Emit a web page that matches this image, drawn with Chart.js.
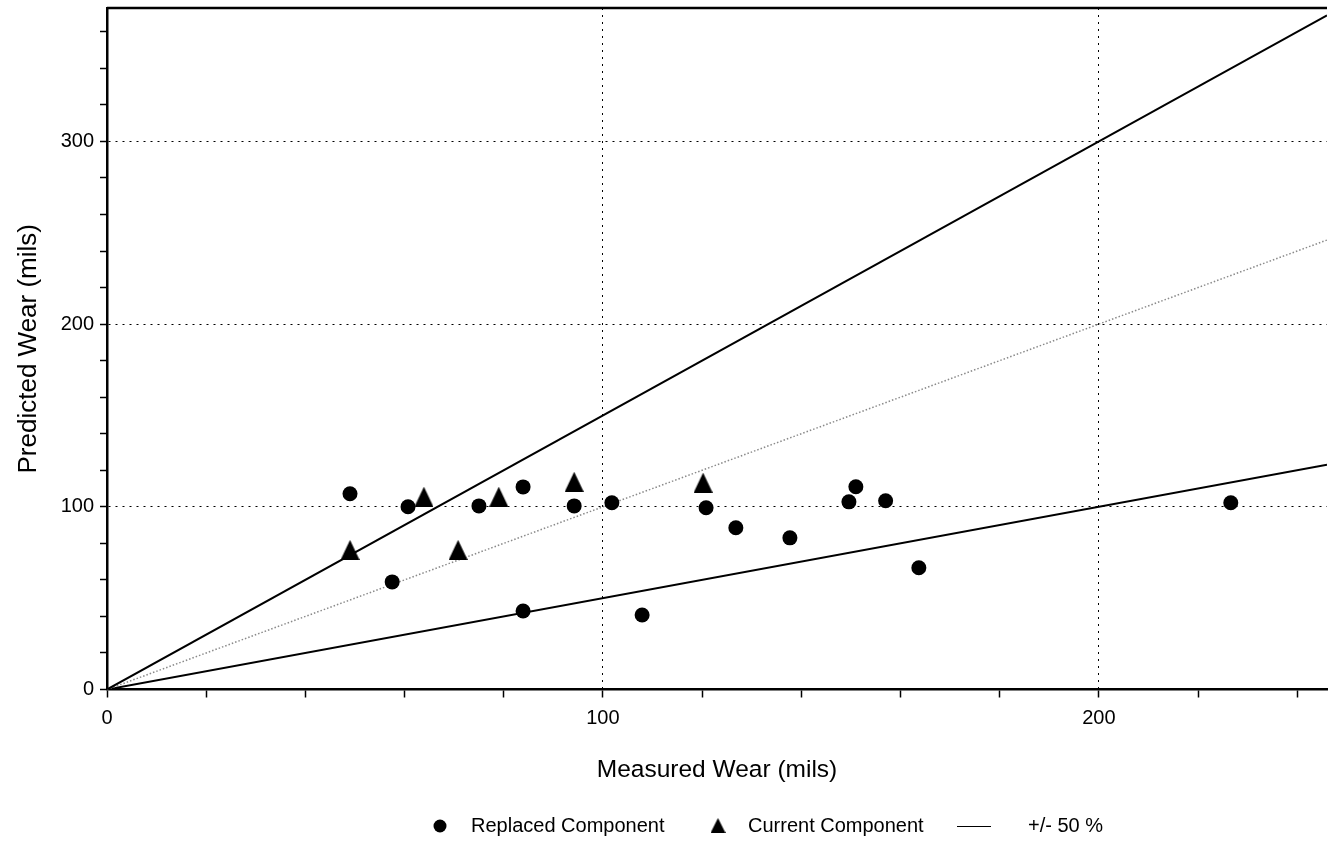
<!DOCTYPE html>
<html><head><meta charset="utf-8">
<script src="https://cdn.jsdelivr.net/npm/chart.js@4.4.1/dist/chart.umd.min.js"></script>
<style>html,body{margin:0;padding:0;background:#fff;}#wrap{width:1329px;height:841px;}</style>
</head><body><div id="wrap"><canvas id="c" width="1329" height="841"></canvas></div>
<script>
// ---- data ----
const replacedX = [49.0, 60.7, 57.5, 75.0, 83.9, 83.9, 94.2, 101.8, 107.9, 120.8, 126.8, 137.7, 149.6, 151.0, 157.0, 163.7, 226.6];
const replacedY = [107.1, 100.0, 58.9, 100.5, 110.9, 43.0, 100.5, 102.2, 40.8, 99.5, 88.5, 83.0, 102.7, 111.0, 103.3, 66.6, 102.2];
const currentX = [49.0, 63.9, 70.8, 79.0, 94.2, 120.2];
const currentY = [76.4, 105.5, 76.4, 105.5, 113.7, 113.2];
const lineX = [0, 246];
const upperY = [0, 369];
const perfectY = [0, 246];
const lowerY = [0, 123];
const xTickLabels = [0, 100, 200];
const yTickLabels = [0, 100, 200, 300];
const legendLabels = ['Replaced Component', 'Current Component', '+/- 50 %'];
const xTitle = 'Measured Wear (mils)';
const yTitle = 'Predicted Wear (mils)';

const FONT = '"Liberation Sans", Arial, sans-serif';
const pts = (xs, ys) => xs.map((x, i) => ({x: x, y: ys[i]}));

// tall triangle marker
function triangleImage(w, h) {
  const c = document.createElement('canvas');
  c.width = w; c.height = h;
  const g = c.getContext('2d');
  g.fillStyle = '#000';
  g.beginPath(); g.moveTo(w / 2, 0); g.lineTo(w, h); g.lineTo(0, h); g.closePath(); g.fill();
  return c;
}
const triImg = triangleImage(19, 20);

const frame = {
  id: 'frame',
  afterDatasetsDraw(chart) {
    const {ctx, chartArea: a} = chart;
    ctx.save();
    ctx.strokeStyle = '#000';
    ctx.lineWidth = 2.5;
    ctx.beginPath();
    ctx.moveTo(a.left, a.top); ctx.lineTo(a.right, a.top);
    ctx.stroke();
    ctx.restore();
  }
};

const legendPlugin = {
  id: 'customLegend',
  afterDraw(chart) {
    const ctx = chart.ctx;
    const y = 826;
    ctx.save();
    ctx.fillStyle = '#000';
    ctx.strokeStyle = '#000';
    ctx.font = '20px ' + FONT;
    ctx.textBaseline = 'middle';
    ctx.textAlign = 'left';
    ctx.beginPath(); ctx.arc(440, y, 6.5, 0, Math.PI * 2); ctx.fill();
    ctx.fillText(legendLabels[0], 471, y);
    ctx.drawImage(triangleImage(15, 15), 718 - 7.5, y - 8);
    ctx.fillText(legendLabels[1], 748, y);
    ctx.lineWidth = 1;
    ctx.beginPath(); ctx.moveTo(957, y + 0.5); ctx.lineTo(991, y + 0.5); ctx.stroke();
    ctx.fillText(legendLabels[2], 1028, y);
    ctx.restore();
  }
};

function noPad(s) { s.paddingTop = 0; s.paddingBottom = 0; s.paddingLeft = 0; s.paddingRight = 0; }

new Chart(document.getElementById('c'), {
  type: 'scatter',
  data: {
    datasets: [
      {label: legendLabels[0], data: pts(replacedX, replacedY), pointStyle: 'circle', pointRadius: 7.5, pointHoverRadius: 7.5,
       backgroundColor: '#000', borderColor: '#000', borderWidth: 0, order: 0},
      {label: legendLabels[1], data: pts(currentX, currentY), pointStyle: triImg, pointRadius: 10, pointHoverRadius: 10,
       backgroundColor: '#000', borderColor: '#000', borderWidth: 0, order: 0},
      {label: legendLabels[2], data: pts(lineX, upperY), showLine: true, pointRadius: 0, borderColor: '#000', borderWidth: 2, order: 1},
      {label: 'perfect', data: pts(lineX, perfectY), showLine: true, pointRadius: 0, borderColor: '#8a8a8a', borderWidth: 1.5, borderDash: [1.5, 2], order: 1},
      {label: 'lower', data: pts(lineX, lowerY), showLine: true, pointRadius: 0, borderColor: '#000', borderWidth: 2, order: 1}
    ]
  },
  options: {
    responsive: false,
    animation: false,
    devicePixelRatio: 1,
    layout: {autoPadding: false, padding: {left: 0, right: 2, top: 8, bottom: 51.5}},
    plugins: {legend: {display: false}, tooltip: {enabled: false}},
    scales: {
      x: {
        type: 'linear', min: 0, max: 246,
        afterFit(s) { s.height = 100; noPad(s); },
        ticks: {stepSize: 20, includeBounds: false, autoSkip: false, maxRotation: 0, padding: 9, color: '#000',
                font: {family: FONT, size: 20},
                callback: v => xTickLabels.includes(v) ? String(v) : ''},
        grid: {color: c => (c.tick && c.tick.value % 100 === 0 && c.tick.value > 0) ? '#000' : 'rgba(0,0,0,0)',
               lineWidth: 1, tickColor: '#000', tickLength: 8, tickWidth: 1.5},
        border: {display: true, color: '#000', width: 2.5, dash: [2, 5]},
        title: {display: true, text: xTitle, color: '#000', font: {family: FONT, size: 24.5}, padding: {top: 0, bottom: 5}}
      },
      y: {
        type: 'linear', min: 0, max: 373,
        afterFit(s) { s.width = 107; noPad(s); },
        ticks: {stepSize: 20, includeBounds: false, autoSkip: false, padding: 6, color: '#000',
                font: {family: FONT, size: 20},
                callback: v => yTickLabels.includes(v) ? String(v) : ''},
        grid: {color: c => (c.tick && c.tick.value % 100 === 0 && c.tick.value > 0) ? '#000' : 'rgba(0,0,0,0)',
               lineWidth: 1, tickColor: '#000', tickLength: 7, tickWidth: 1.5},
        border: {display: true, color: '#000', width: 2.5, dash: [2, 5]},
        title: {display: true, text: yTitle, color: '#000', font: {family: FONT, size: 26}, padding: {top: 13, bottom: 0}}
      }
    }
  },
  plugins: [frame, legendPlugin]
});
</script>
</body></html>
